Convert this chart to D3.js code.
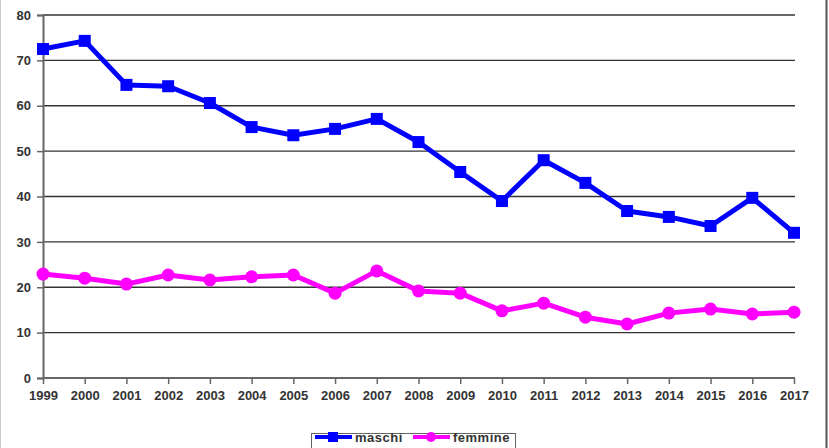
<!DOCTYPE html>
<html><head><meta charset="utf-8">
<script src="https://cdn.jsdelivr.net/npm/d3@7"></script>
<style>body{margin:0;background:#fff}svg{display:block}</style>
</head><body><svg id="c" width="829" height="448"></svg>
<script>
const years = ["1999","2000","2001","2002","2003","2004","2005","2006","2007","2008","2009","2010","2011","2012","2013","2014","2015","2016","2017"];
const maschi = [72.5,74.3,64.6,64.3,60.6,55.3,53.5,54.9,57.1,52.0,45.4,39.0,48.0,43.0,36.8,35.5,33.5,39.7,32.0];
const femmine = [22.9,22.0,20.7,22.7,21.6,22.3,22.7,18.7,23.6,19.2,18.7,14.8,16.5,13.4,11.9,14.3,15.2,14.1,14.5];
const yTicks = [0,10,20,30,40,50,60,70,80];
const seriesNames = ["maschi","femmine"];
const colors = ["#0000ff","#ff00ff"];
const font = "Liberation Sans, Arial, sans-serif";

const svg = d3.select("#c");
svg.append("rect").attr("x",0.5).attr("y",-1).attr("width",826).attr("height",450).attr("fill","#fff").attr("stroke","#ccc");
svg.append("line").attr("x1",826.5).attr("x2",826.5).attr("y1",0).attr("y2",448).attr("stroke","#555").attr("stroke-width",2);

const x = d3.scalePoint().domain(years).range([43,794]);
const y = d3.scaleLinear().domain([0,80]).range([378,15]);

svg.append("g").selectAll("line").data(yTicks.filter(d=>d>0)).join("line")
  .attr("x1",43).attr("x2",795).attr("y1",d=>y(d)).attr("y2",d=>y(d))
  .attr("stroke","#333").attr("stroke-width",1.3);

const yAxis = svg.append("g").attr("transform","translate(43,0)")
  .call(d3.axisLeft(y).tickValues(yTicks).tickSize(6).tickPadding(6));
const xAxis = svg.append("g").attr("transform","translate(0,378)")
  .call(d3.axisBottom(x).tickSize(6).tickPadding(7));
[yAxis,xAxis].forEach(a=>{
  a.select(".domain").attr("stroke","#666").attr("stroke-width",2);
  a.selectAll(".tick line").attr("stroke","#666").attr("stroke-width",1.5);
  a.selectAll("text").attr("font-family",font).attr("font-size",13).attr("font-weight","bold").attr("fill","#333");
});
xAxis.select(".domain").attr("d","M43,0H795");

const data = [maschi,femmine];
const line = d3.line().x((d,i)=>x(years[i])).y(d=>y(d));
data.forEach((s,k)=>{
  svg.append("path").datum(s).attr("d",line).attr("fill","none").attr("stroke",colors[k]).attr("stroke-width",5).attr("stroke-linejoin","round");
  const g = svg.append("g");
  if(k===0){
    g.selectAll("rect").data(s).join("rect")
      .attr("x",(d,i)=>x(years[i])-6).attr("y",d=>y(d)-6).attr("width",12).attr("height",12).attr("fill",colors[k]);
  } else {
    g.selectAll("circle").data(s).join("circle")
      .attr("cx",(d,i)=>x(years[i])).attr("cy",d=>y(d)).attr("r",6.5).attr("fill",colors[k]);
  }
});

const lg = svg.append("g");
lg.append("rect").attr("x",311.5).attr("y",433.5).attr("width",204).attr("height",20).attr("fill","#fff").attr("stroke","#666");
seriesNames.forEach((n,k)=>{
  const x0 = k===0 ? 315 : 413;
  lg.append("line").attr("x1",x0).attr("x2",x0+37).attr("y1",437).attr("y2",437).attr("stroke",colors[k]).attr("stroke-width",4);
  if(k===0) lg.append("rect").attr("x",x0+13).attr("y",432).attr("width",10).attr("height",10).attr("fill",colors[k]);
  else lg.append("circle").attr("cx",x0+18).attr("cy",437).attr("r",5).attr("fill",colors[k]);
  lg.append("text").attr("x",x0+40).attr("y",442).text(n)
    .attr("font-family",font).attr("font-size",13).attr("font-weight","bold").attr("letter-spacing",0.5).attr("fill","#333");
});
</script></body></html>
